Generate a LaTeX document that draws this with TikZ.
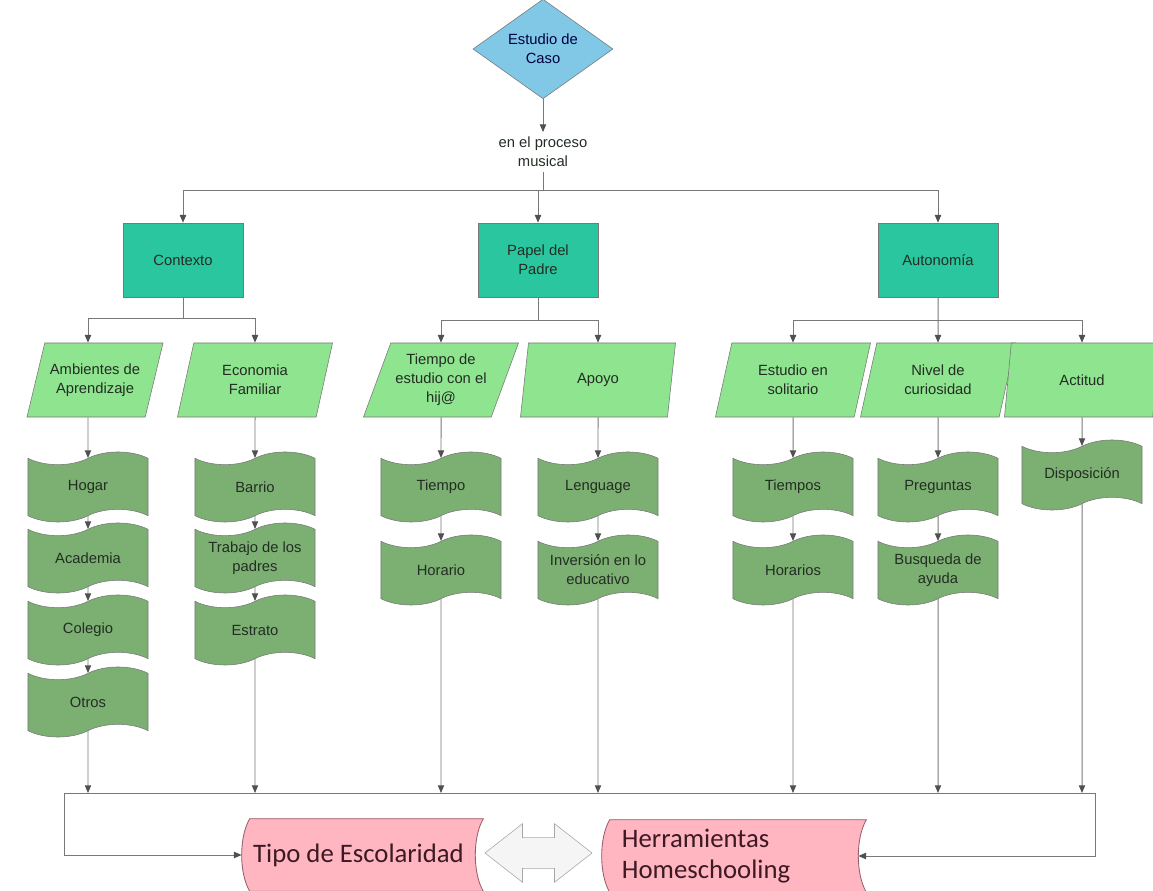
\documentclass[tikz,border=0pt]{standalone}
\usepackage{fontspec}
\setmainfont{Liberation Sans}
\newfontfamily\calibrifont{Carlito}
\usepackage{xcolor}
\definecolor{casoblue}{RGB}{128,200,230}
\definecolor{topteal}{RGB}{42,198,160}
\definecolor{paramgreen}{RGB}{143,228,143}
\definecolor{tapegreen}{RGB}{124,176,114}
\definecolor{endpink}{RGB}{255,182,193}
\definecolor{endline}{RGB}{150,95,105}
\definecolor{endtext}{RGB}{60,25,35}
\definecolor{linegray}{RGB}{120,120,120}
\definecolor{tipgray}{RGB}{80,80,80}
\definecolor{txtdark}{RGB}{35,45,35}
\usepackage{tikz}
\usetikzlibrary{positioning, arrows.meta, shapes.geometric, shapes.symbols, shapes.arrows, calc, backgrounds}
% outline of the pink end boxes: bulge on the left, hollow on the right
\newcommand{\drawpinkbox}[1]{%
    \filldraw [endbox] ($(#1.north west)+(8,0)$) -- ($(#1.north east)+(8,0)$)
        .. controls ($(#1.east)+(-2.7,-18)$) and ($(#1.east)+(-2.7,18)$) .. ($(#1.south east)+(8,0)$)
        -- ($(#1.south west)+(8,0)$)
        .. controls ($(#1.west)+(-2.7,18)$) and ($(#1.west)+(-2.7,-18)$) .. cycle;}

\begin{document}
\begin{tikzpicture}[
    % GLOBAL CFG
    x=0.025cm, y=-0.025cm,
    font=\fontsize{10.5}{13.5}\selectfont,
    >={Triangle[length=5.5pt,width=4.5pt,color=tipgray]},
    % Styles
    casebox/.style={% The start diamond
        diamond,
        draw=linegray,
        fill=casoblue,
        text=blue!25!black,
        align=center,
        inner sep=0pt,
        minimum width=3.5cm,
        minimum height=2.05cm,
        },
    mainbox/.style={% For the three main topics
        rectangle,
        draw=linegray,
        fill=topteal,
        text=txtdark,
        align=center,
        minimum width=3cm,
        minimum height=1.85cm,
        },
    parambox/.style={% Parallelograms under each topic
        trapezium,
        trapezium left angle=63.4,
        trapezium right angle=116.6,
        trapezium stretches body,
        draw=linegray,
        fill=paramgreen,
        text=txtdark,
        align=center,
        minimum width=3.875cm,
        minimum height=1.85cm,
        inner sep=1pt,
        },
    itembox/.style={% Wavy boxes for the items
        tape,
        tape bend top=in and out,
        tape bend bottom=in and out,
        tape bend height=9pt,
        draw=linegray,
        fill=tapegreen,
        text=txtdark,
        align=center,
        minimum width=3cm,
        minimum height=1.75cm,
        inner sep=1pt,
        },
    endbox/.style={% Pink end boxes
        draw=endline,
        fill=endpink,
        line width=0.6pt,
        },
    endtxt/.style={% Text of the pink end boxes
        rectangle,
        text=endtext,
        font=\calibrifont\fontsize{19}{22}\selectfont,
        minimum height=1.8cm,
        inner sep=0pt,
        },
    link/.style={% Plain connector
        draw=linegray,
        line width=0.7pt,
        },
    arrow/.style={% Connector with a tip
        link,
        ->,
        },
    ]
\useasboundingbox (0,0) rectangle (1153,891);

    % Start of the case
    \node [casebox] (caso) at (543,49) {Estudio de\\Caso};
    \node [align=center, text=txtdark] (proc) at (543,152) {en el proceso\\musical};

    % Main topics
    \node [mainbox] (ctx) at (183,260) {Contexto};
    \node [mainbox] (pap) at (538,260) {Papel del\\Padre};
    \node [mainbox] (aut) at (938,260) {Autonomía};

    % Parameters
    \node [parambox, minimum width=3.4cm] (amb) at (95,380) {Ambientes de\\Aprendizaje};
    \node [parambox] (eco) at (255,380) {Economia\\Familiar};
    \node [parambox] (tie) at (441,380) {Tiempo de\\estudio con el\\hij@};
    \node [parambox] (apo) at (598,380) {Apoyo};
    \node [parambox] (sol) at (793,380) {Estudio en\\solitario};
    \node [parambox] (cur) at (938,380) {Nivel de\\curiosidad};
    \node [parambox] (act) at (1082,380) {Actitud};

    % Items, one column per parameter
    \node [itembox] (hog) at (88,487) {Hogar};
    \node [itembox] (aca) at (88,558) {Academia};
    \node [itembox] (col) at (88,630) {Colegio};
    \node [itembox] (otr) at (88,702) {Otros};

    \node [itembox] (bar) at (255,487) {Barrio};
    \node [itembox] (tra) at (255,558) {Trabajo de los\\padres};
    \node [itembox] (estr) at (255,630) {Estrato};

    \node [itembox] (tmp) at (441,487) {Tiempo};
    \node [itembox] (hor) at (441,570) {Horario};

    \node [itembox] (len) at (598,487) {Lenguage};
    \node [itembox] (inv) at (598,570) {Inversión en lo\\educativo};

    \node [itembox] (tps) at (793,487) {Tiempos};
    \node [itembox] (hrs) at (793,570) {Horarios};

    \node [itembox] (pre) at (938,487) {Preguntas};
    \node [itembox] (bus) at (938,570) {Busqueda de\\ayuda};

    \node [itembox] (dis) at (1082,475) {Disposición};

    % End boxes
    \node [endtxt, minimum width=5.825cm] (tipo) at (358.5,855) {Tipo de Escolaridad};
    \node [endtxt, minimum width=6.4cm, text width=5.4cm, inner xsep=0.5cm, align=left] (herr) at (730,856) {Herramientas\\Homeschooling};
    \node [double arrow, double arrow tip angle=76, double arrow head extend=0.35cm,
        inner xsep=0pt, inner ysep=0.375cm, minimum height=2.675cm,
        draw=gray!70, fill=gray!8] (dbl) at (538.5,853) {};
    \begin{scope}[on background layer]
        \drawpinkbox{tipo}
        \drawpinkbox{herr}
    \end{scope}

% Start connecting all.
    % Top
    \coordinate (sp0) at (538,190);
    \draw [arrow] (caso) -- (proc);
    \draw [link] (proc) -- (proc |- sp0);
    \draw [link] (ctx |- sp0) -- (aut |- sp0);
    \draw [arrow] (sp0) -| (ctx);
    \draw [arrow] (sp0) -- (pap);
    \draw [arrow] (sp0) -| (aut);

    % Topics to parameters
    \coordinate (sp1) at (183,318);
    \coordinate (sp2) at (538,320);
    \coordinate (sp3) at (938,320);
    \draw [link] (ctx) -- (sp1);
    \draw [arrow] (sp1) -| (hog |- amb.north);
    \draw [arrow] (sp1) -| (eco);
    \draw [link] (pap) -- (sp2);
    \draw [arrow] (sp2) -| (tie);
    \draw [arrow] (sp2) -| (apo);
    \draw [arrow] (aut) -- (cur);
    \draw [arrow] (sp3) -| (sol);
    \draw [arrow] (sp3) -| (act);

    % Parameters to items
    \draw [arrow] (hog |- amb.south) -- (hog);
    \draw [arrow] (hog) -- (aca);
    \draw [arrow] (aca) -- (col);
    \draw [arrow] (col) -- (otr);
    \draw [arrow] (eco) -- (bar);
    \draw [arrow] (bar) -- (tra);
    \draw [arrow] (tra) -- (estr);
    \draw [arrow] (tie) -- (tmp);
    \draw [arrow] (tmp) -- (hor);
    \draw [arrow] (apo) -- (len);
    \draw [arrow] (len) -- (inv);
    \draw [arrow] (sol) -- (tps);
    \draw [arrow] (tps) -- (hrs);
    \draw [arrow] (cur) -- (pre);
    \draw [arrow] (pre) -- (bus);
    \draw [arrow] (act) -- (dis);

    % Down to the end boxes
    \coordinate (bl) at (64,793);
    \coordinate (br) at (1095,793);
    \draw [link] (bl) -- (br);
    \foreach \last in {otr,estr,hor,inv,hrs,bus,dis}
        \draw [arrow] (\last) -- (\last |- bl);
    \draw [arrow] (bl) |- (tipo);
    \draw [arrow] (br) |- (herr);

\end{tikzpicture}
\end{document}
